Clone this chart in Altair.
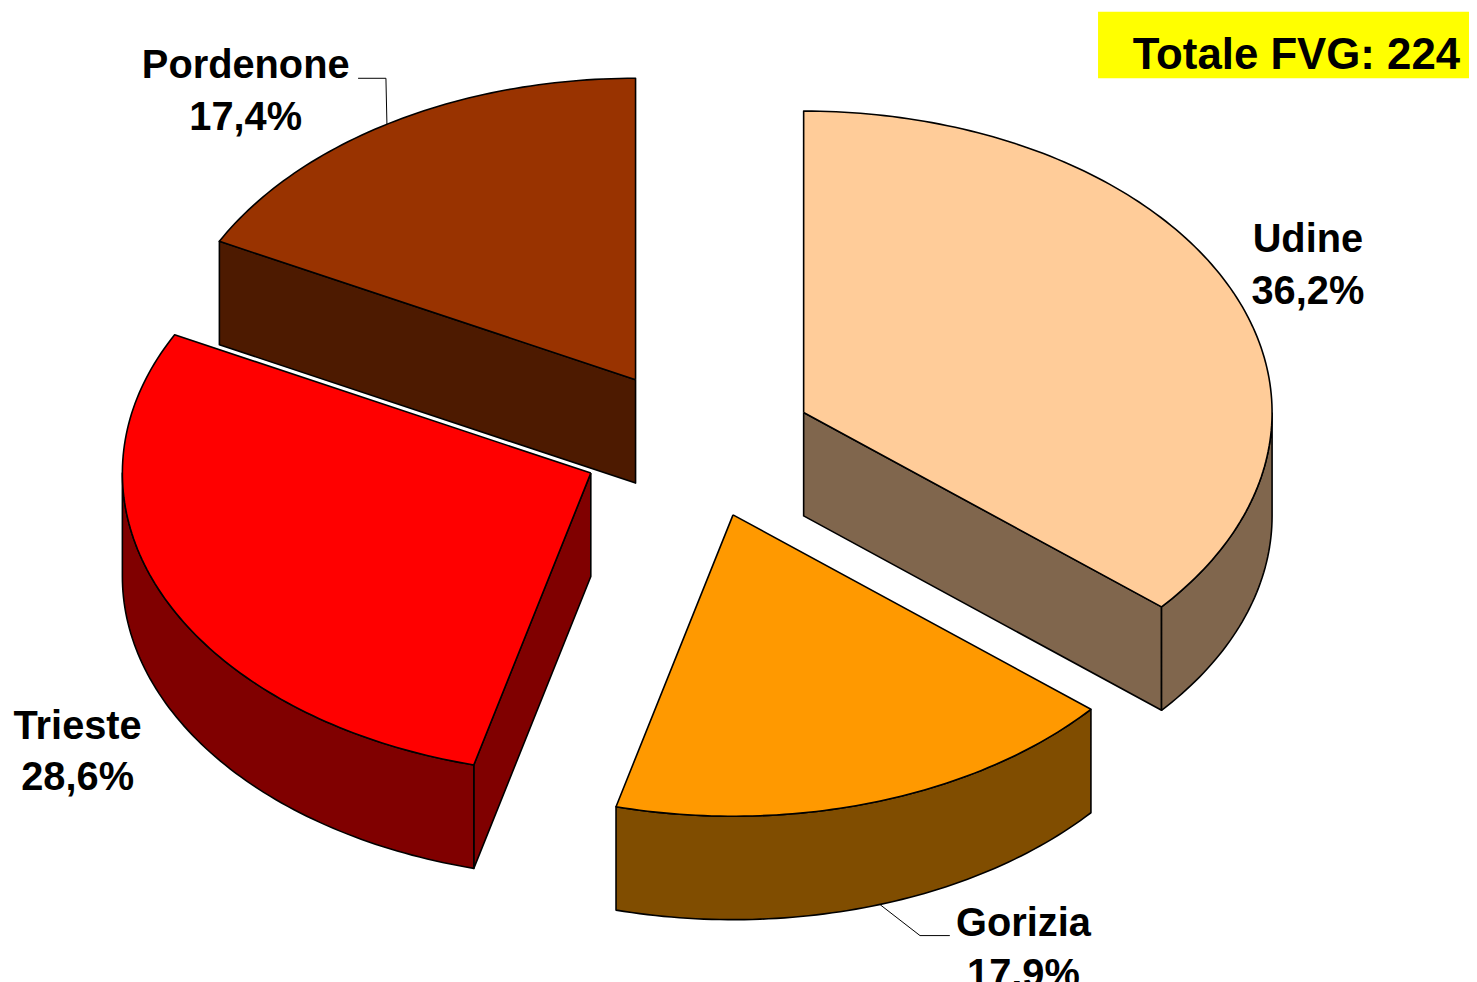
import math
import altair as alt
import pandas as pd

# Data
provinces = ["Udine", "Gorizia", "Trieste", "Pordenone"]
counts = [81, 40, 64, 39]
percent_labels = ["36,2%", "17,9%", "28,6%", "17,4%"]
total_label = "Totale FVG: 224"

# Styles / layout (image pixel space)
top_colors = ["#FFCC99", "#FF9900", "#FF0000", "#993300"]
side_colors = ["#80664D", "#804D00", "#800000", "#4D1A00"]
apex_x = [808, 737, 594, 639]
apex_y = [412, 515, 473, 379]
label_x = [1315, 1029, 78, 247]
label_y = [239, 926, 728, 64]
RX, RY, DEPTH = 471, 303, 104
W, H = 1469, 974
X_DOM = [8, 1477]
Y_DOM = [982, 8]

x_scale = alt.Scale(domain=X_DOM, nice=False, zero=False)
y_scale = alt.Scale(domain=Y_DOM, nice=False, zero=False)
x_enc = alt.X("x:Q", scale=x_scale, axis=None)
y_enc = alt.Y("y:Q", scale=y_scale, axis=None)


def rim(i, a0, a1, dy=0):
    n = max(2, int(abs(a1 - a0)) + 1)
    pts = []
    for k in range(n + 1):
        t = math.radians(a0 + (a1 - a0) * k / n)
        pts.append((apex_x[i] + RX * math.sin(t), apex_y[i] - RY * math.cos(t) + dy))
    return pts


def poly(points, fill):
    closed = list(points) + [points[0]]
    df = pd.DataFrame(
        {"x": [p[0] for p in closed], "y": [p[1] for p in closed], "o": range(len(closed))}
    )
    return (
        alt.Chart(df)
        .mark_line(fill=fill, stroke="black", strokeWidth=1.6, strokeJoin="round")
        .encode(x=x_enc, y=y_enc, order="o:Q")
    )


total = sum(counts)
starts, ends, acc = [], [], 0
for c in counts:
    starts.append(acc / total * 360)
    acc += c
    ends.append(acc / total * 360)


def inner_wall(i, ang):
    t = math.radians(ang)
    ax, ay = apex_x[i], apex_y[i]
    ex, ey = ax + RX * math.sin(t), ay - RY * math.cos(t)
    return [(ax, ay), (ex, ey), (ex, ey + DEPTH), (ax, ay + DEPTH)]


def outer_wall(i, a0, a1):
    return rim(i, a0, a1) + rim(i, a1, a0, DEPTH)


def top(i):
    return [(apex_x[i], apex_y[i])] + rim(i, starts[i], ends[i])


layers = []
# yellow box
box = pd.DataFrame({"x": [1104], "x2": [1477], "y": [9], "y2": [76]})
layers.append(
    alt.Chart(box)
    .mark_rect(color="#FFFF00")
    .encode(x=x_enc, x2="x2:Q", y=y_enc, y2="y2:Q")
)

# Pordenone
layers += [poly(inner_wall(3, starts[3]), side_colors[3]), poly(top(3), top_colors[3])]
# Trieste
layers += [
    poly(inner_wall(2, starts[2]), side_colors[2]),
    poly(outer_wall(2, starts[2], 270), side_colors[2]),
    poly(top(2), top_colors[2]),
]
# Gorizia
layers += [poly(outer_wall(1, starts[1], ends[1]), side_colors[1]), poly(top(1), top_colors[1])]
# Udine
layers += [
    poly(inner_wall(0, ends[0]), side_colors[0]),
    poly(outer_wall(0, 90, ends[0]), side_colors[0]),
    poly(top(0), top_colors[0]),
]

# leader lines
for pts in ([(360, 76), (388, 76), (389, 122)], [(885, 907), (925, 938), (955, 938)]):
    df = pd.DataFrame({"x": [p[0] for p in pts], "y": [p[1] for p in pts], "o": range(3)})
    layers.append(
        alt.Chart(df).mark_line(color="black", strokeWidth=1).encode(x=x_enc, y=y_enc, order="o:Q")
    )

# labels
rows = []
for i in range(4):
    rows.append({"x": label_x[i], "y": label_y[i], "t": provinces[i]})
    rows.append({"x": label_x[i], "y": label_y[i] + 52, "t": percent_labels[i]})
layers.append(
    alt.Chart(pd.DataFrame(rows))
    .mark_text(font="Liberation Sans", fontWeight="bold", fontSize=40, color="black", align="center")
    .encode(x=x_enc, y=y_enc, text="t:N")
)
layers.append(
    alt.Chart(pd.DataFrame([{"x": 1468, "y": 54, "t": total_label}]))
    .mark_text(font="Liberation Sans", fontWeight="bold", fontSize=44, color="black", align="right")
    .encode(x=x_enc, y=y_enc, text="t:N")
)

chart = (
    alt.layer(*layers)
    .properties(width=W, height=H, padding=0, autosize=alt.AutoSizeParams(type="none"), background="white")
    .configure_view(stroke=None)
)
chart.save("out.html", embed_options={"renderer": "svg", "actions": False})
